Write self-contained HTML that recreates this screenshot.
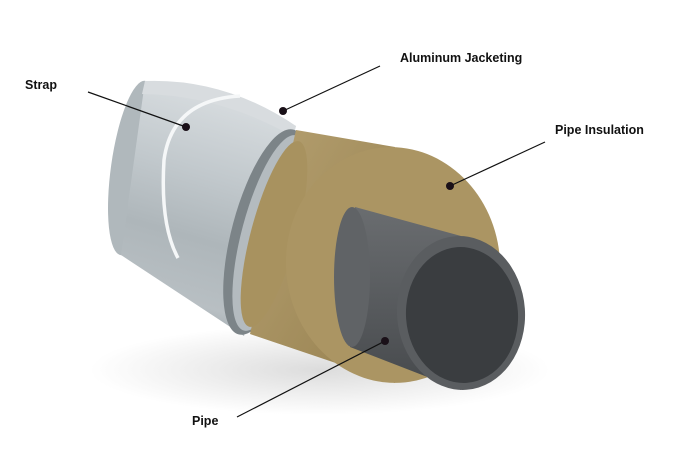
<!DOCTYPE html>
<html><head><style>
html,body{margin:0;padding:0;background:#fff;}
svg{display:block;}
text{font-family:"Liberation Sans",sans-serif;font-weight:bold;font-size:12.5px;fill:#111;}
</style></head><body>
<svg width="683" height="455" viewBox="0 0 683 455" xmlns="http://www.w3.org/2000/svg">
<defs>
<linearGradient id="al" x1="0.2" y1="0" x2="0" y2="1">
<stop offset="0" stop-color="#d6dbde"/><stop offset="0.3" stop-color="#c1c8cc"/><stop offset="0.55" stop-color="#aeb6ba"/><stop offset="0.8" stop-color="#b8bfc3"/><stop offset="1" stop-color="#8f989d"/>
</linearGradient>
<linearGradient id="wool" x1="0" y1="0" x2="1" y2="1">
<stop offset="0" stop-color="#b5a070"/><stop offset="1" stop-color="#96804f"/>
</linearGradient>
<linearGradient id="pipe" x1="0" y1="0" x2="0" y2="1">
<stop offset="0" stop-color="#6a6d70"/><stop offset="0.6" stop-color="#55585b"/><stop offset="1" stop-color="#46494c"/>
</linearGradient>
<radialGradient id="sh" cx="0.5" cy="0.5" r="0.5"><stop offset="0" stop-color="#dcdcdc"/><stop offset="1" stop-color="#fff"/></radialGradient>
</defs>
<ellipse cx="320" cy="370" rx="230" ry="45" fill="url(#sh)"/>
<ellipse cx="133" cy="168" rx="22" ry="88" transform="rotate(8 133 168)" fill="#b0b8bc"/>
<path d="M145,81 L296,126 L244,336 L121,255 Z" fill="url(#al)"/>
<path d="M145,81 Q225,78 296,126 L292,136 Q220,95 142,94 Z" fill="#d8dcdf"/>
<path d="M240,96 Q172,100 164,160 Q160,225 178,258" stroke="#f5f7f8" stroke-width="3.5" fill="none"/>
<ellipse cx="266" cy="232" rx="34" ry="106" transform="rotate(15 266 232)" fill="#7c8488"/>
<ellipse cx="270" cy="233" rx="28" ry="101" transform="rotate(15 270 233)" fill="#b4bbbf"/>
<path d="M296,130 L395,147 L395,383 L250,334 Z" fill="url(#wool)"/>
<ellipse cx="274" cy="234" rx="23" ry="96" transform="rotate(15 274 234)" fill="#a8925f"/>
<ellipse cx="393" cy="265" rx="107" ry="118" transform="rotate(-6 393 265)" fill="#ab9563"/>
<path d="M355,207 L461,236 L461,390 L350,347 Z" fill="url(#pipe)"/>
<ellipse cx="352" cy="277" rx="18" ry="70" fill="#606366"/>
<ellipse cx="461" cy="313" rx="64" ry="77" transform="rotate(-4 461 313)" fill="#5a5d60"/>
<ellipse cx="462" cy="315" rx="56" ry="68" transform="rotate(-4 462 315)" fill="#3a3d40"/>
<g stroke="#111" stroke-width="1.2">
<line x1="88" y1="92" x2="186" y2="127"/>
<line x1="380" y1="66" x2="283" y2="111"/>
<line x1="545" y1="142" x2="450" y2="186"/>
<line x1="237" y1="417" x2="385" y2="341"/>
</g>
<g fill="#1a1018">
<circle cx="186" cy="127" r="4"/><circle cx="283" cy="111" r="4"/><circle cx="450" cy="186" r="4"/><circle cx="385" cy="341" r="4"/>
</g>
<text x="25" y="89">Strap</text>
<text x="400" y="62">Aluminum Jacketing</text>
<text x="555" y="134">Pipe Insulation</text>
<text x="192" y="425">Pipe</text>
</svg>
</body></html>
